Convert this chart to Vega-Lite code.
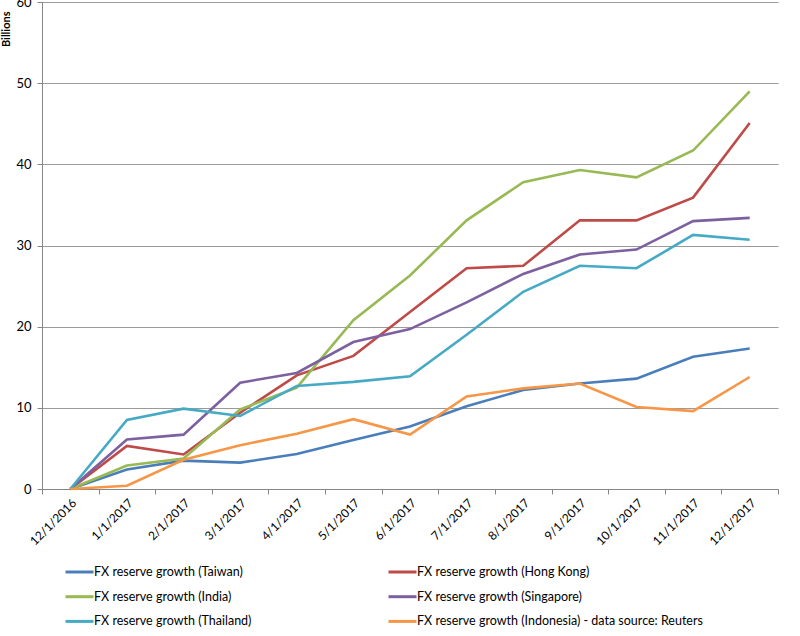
{
  "$schema": "https://vega.github.io/schema/vega-lite/v6.json",
  "width": 736,
  "height": 487,
  "autosize": {"type": "none"},
  "padding": {"left": 42, "top": 2, "right": 22, "bottom": 147},
  "background": "white",
  "config": {"view": {"stroke": null}, "font": "Lato"},
  "datasets": {
    "fx": [
      {"date": "12/1/2016", "series": "FX reserve growth (Taiwan)", "value": 0},
      {"date": "1/1/2017", "series": "FX reserve growth (Taiwan)", "value": 2.4},
      {"date": "2/1/2017", "series": "FX reserve growth (Taiwan)", "value": 3.5},
      {"date": "3/1/2017", "series": "FX reserve growth (Taiwan)", "value": 3.25},
      {"date": "4/1/2017", "series": "FX reserve growth (Taiwan)", "value": 4.3},
      {"date": "5/1/2017", "series": "FX reserve growth (Taiwan)", "value": 6.05},
      {"date": "6/1/2017", "series": "FX reserve growth (Taiwan)", "value": 7.7},
      {"date": "7/1/2017", "series": "FX reserve growth (Taiwan)", "value": 10.2},
      {"date": "8/1/2017", "series": "FX reserve growth (Taiwan)", "value": 12.2},
      {"date": "9/1/2017", "series": "FX reserve growth (Taiwan)", "value": 13.0},
      {"date": "10/1/2017", "series": "FX reserve growth (Taiwan)", "value": 13.6},
      {"date": "11/1/2017", "series": "FX reserve growth (Taiwan)", "value": 16.3},
      {"date": "12/1/2017", "series": "FX reserve growth (Taiwan)", "value": 17.3},
      {"date": "12/1/2016", "series": "FX reserve growth (Hong Kong)", "value": 0},
      {"date": "1/1/2017", "series": "FX reserve growth (Hong Kong)", "value": 5.3},
      {"date": "2/1/2017", "series": "FX reserve growth (Hong Kong)", "value": 4.25},
      {"date": "3/1/2017", "series": "FX reserve growth (Hong Kong)", "value": 9.4},
      {"date": "4/1/2017", "series": "FX reserve growth (Hong Kong)", "value": 14.0},
      {"date": "5/1/2017", "series": "FX reserve growth (Hong Kong)", "value": 16.4},
      {"date": "6/1/2017", "series": "FX reserve growth (Hong Kong)", "value": 21.8},
      {"date": "7/1/2017", "series": "FX reserve growth (Hong Kong)", "value": 27.2},
      {"date": "8/1/2017", "series": "FX reserve growth (Hong Kong)", "value": 27.5},
      {"date": "9/1/2017", "series": "FX reserve growth (Hong Kong)", "value": 33.1},
      {"date": "10/1/2017", "series": "FX reserve growth (Hong Kong)", "value": 33.1},
      {"date": "11/1/2017", "series": "FX reserve growth (Hong Kong)", "value": 35.9},
      {"date": "12/1/2017", "series": "FX reserve growth (Hong Kong)", "value": 45.1},
      {"date": "12/1/2016", "series": "FX reserve growth (India)", "value": 0},
      {"date": "1/1/2017", "series": "FX reserve growth (India)", "value": 2.9},
      {"date": "2/1/2017", "series": "FX reserve growth (India)", "value": 3.75},
      {"date": "3/1/2017", "series": "FX reserve growth (India)", "value": 9.8},
      {"date": "4/1/2017", "series": "FX reserve growth (India)", "value": 12.5},
      {"date": "5/1/2017", "series": "FX reserve growth (India)", "value": 20.8},
      {"date": "6/1/2017", "series": "FX reserve growth (India)", "value": 26.3},
      {"date": "7/1/2017", "series": "FX reserve growth (India)", "value": 33.1},
      {"date": "8/1/2017", "series": "FX reserve growth (India)", "value": 37.8},
      {"date": "9/1/2017", "series": "FX reserve growth (India)", "value": 39.3},
      {"date": "10/1/2017", "series": "FX reserve growth (India)", "value": 38.4},
      {"date": "11/1/2017", "series": "FX reserve growth (India)", "value": 41.7},
      {"date": "12/1/2017", "series": "FX reserve growth (India)", "value": 49.0},
      {"date": "12/1/2016", "series": "FX reserve growth (Singapore)", "value": 0},
      {"date": "1/1/2017", "series": "FX reserve growth (Singapore)", "value": 6.1},
      {"date": "2/1/2017", "series": "FX reserve growth (Singapore)", "value": 6.7},
      {"date": "3/1/2017", "series": "FX reserve growth (Singapore)", "value": 13.1},
      {"date": "4/1/2017", "series": "FX reserve growth (Singapore)", "value": 14.3},
      {"date": "5/1/2017", "series": "FX reserve growth (Singapore)", "value": 18.1},
      {"date": "6/1/2017", "series": "FX reserve growth (Singapore)", "value": 19.7},
      {"date": "7/1/2017", "series": "FX reserve growth (Singapore)", "value": 23.0},
      {"date": "8/1/2017", "series": "FX reserve growth (Singapore)", "value": 26.5},
      {"date": "9/1/2017", "series": "FX reserve growth (Singapore)", "value": 28.9},
      {"date": "10/1/2017", "series": "FX reserve growth (Singapore)", "value": 29.5},
      {"date": "11/1/2017", "series": "FX reserve growth (Singapore)", "value": 33.0},
      {"date": "12/1/2017", "series": "FX reserve growth (Singapore)", "value": 33.4},
      {"date": "12/1/2016", "series": "FX reserve growth (Thailand)", "value": 0},
      {"date": "1/1/2017", "series": "FX reserve growth (Thailand)", "value": 8.5},
      {"date": "2/1/2017", "series": "FX reserve growth (Thailand)", "value": 9.9},
      {"date": "3/1/2017", "series": "FX reserve growth (Thailand)", "value": 9.0},
      {"date": "4/1/2017", "series": "FX reserve growth (Thailand)", "value": 12.7},
      {"date": "5/1/2017", "series": "FX reserve growth (Thailand)", "value": 13.2},
      {"date": "6/1/2017", "series": "FX reserve growth (Thailand)", "value": 13.9},
      {"date": "7/1/2017", "series": "FX reserve growth (Thailand)", "value": 19.0},
      {"date": "8/1/2017", "series": "FX reserve growth (Thailand)", "value": 24.3},
      {"date": "9/1/2017", "series": "FX reserve growth (Thailand)", "value": 27.5},
      {"date": "10/1/2017", "series": "FX reserve growth (Thailand)", "value": 27.2},
      {"date": "11/1/2017", "series": "FX reserve growth (Thailand)", "value": 31.3},
      {"date": "12/1/2017", "series": "FX reserve growth (Thailand)", "value": 30.7},
      {"date": "12/1/2016", "series": "FX reserve growth (Indonesia) - data source: Reuters", "value": 0},
      {"date": "1/1/2017", "series": "FX reserve growth (Indonesia) - data source: Reuters", "value": 0.4},
      {"date": "2/1/2017", "series": "FX reserve growth (Indonesia) - data source: Reuters", "value": 3.6},
      {"date": "3/1/2017", "series": "FX reserve growth (Indonesia) - data source: Reuters", "value": 5.4},
      {"date": "4/1/2017", "series": "FX reserve growth (Indonesia) - data source: Reuters", "value": 6.8},
      {"date": "5/1/2017", "series": "FX reserve growth (Indonesia) - data source: Reuters", "value": 8.6},
      {"date": "6/1/2017", "series": "FX reserve growth (Indonesia) - data source: Reuters", "value": 6.7},
      {"date": "7/1/2017", "series": "FX reserve growth (Indonesia) - data source: Reuters", "value": 11.4},
      {"date": "8/1/2017", "series": "FX reserve growth (Indonesia) - data source: Reuters", "value": 12.4},
      {"date": "9/1/2017", "series": "FX reserve growth (Indonesia) - data source: Reuters", "value": 13.0},
      {"date": "10/1/2017", "series": "FX reserve growth (Indonesia) - data source: Reuters", "value": 10.1},
      {"date": "11/1/2017", "series": "FX reserve growth (Indonesia) - data source: Reuters", "value": 9.6},
      {"date": "12/1/2017", "series": "FX reserve growth (Indonesia) - data source: Reuters", "value": 13.8}
    ]
  },
  "data": {"name": "fx"},
  "mark": {"type": "line", "strokeWidth": 2.6},
  "encoding": {
    "x": {
      "field": "date",
      "type": "ordinal",
      "sort": ["12/1/2016", "1/1/2017", "2/1/2017", "3/1/2017", "4/1/2017", "5/1/2017", "6/1/2017", "7/1/2017", "8/1/2017", "9/1/2017", "10/1/2017", "11/1/2017", "12/1/2017"],
      "bandPosition": 0.5,
      "scale": {"type": "band", "paddingInner": 0, "paddingOuter": 0},
      "axis": {
        "title": null,
        "labelAngle": -45,
        "tickBand": "extent",
        "grid": false,
        "domainColor": "#868686",
        "tickColor": "#868686",
        "tickSize": 5,
        "labelFontSize": 12,
        "labelColor": "#000000",
        "labelPadding": 3
      }
    },
    "y": {
      "field": "value",
      "type": "quantitative",
      "scale": {"domain": [0, 60], "nice": false},
      "axis": {
        "title": "Billions",
        "titleFontSize": 11,
        "titleFontWeight": "bold",
        "titleColor": "#000000",
        "titleX": -33,
        "titleY": 9,
        "titleAlign": "right",
        "titleAngle": -90,
        "titleBaseline": "alphabetic",
        "values": [0, 10, 20, 30, 40, 50, 60],
        "gridColor": "#9a9a9a",
        "domainColor": "#868686",
        "tickColor": "#868686",
        "tickSize": 5,
        "labelPadding": 6,
        "labelFontSize": 13,
        "labelColor": "#000000"
      }
    },
    "color": {
      "field": "series",
      "type": "nominal",
      "scale": {
        "domain": ["FX reserve growth (Taiwan)", "FX reserve growth (India)", "FX reserve growth (Thailand)", "FX reserve growth (Hong Kong)", "FX reserve growth (Singapore)", "FX reserve growth (Indonesia) - data source: Reuters"],
        "range": ["#4a7ebb", "#98b954", "#46aac5", "#be4b48", "#7d60a0", "#f79646"]
      },
      "legend": {
        "title": null,
        "orient": "none",
        "legendX": 31,
        "legendY": 563.5,
        "columns": 2,
        "columnPadding": 130,
        "rowPadding": 11.7,
        "symbolType": "M-3,0H3",
        "symbolSize": 87,
        "symbolStrokeWidth": 3,
        "symbolFillColor": "transparent",
        "labelFontSize": 12.5,
        "labelColor": "#000000",
        "labelOffset": 8,
        "labelLimit": 400
      }
    }
  }
}
